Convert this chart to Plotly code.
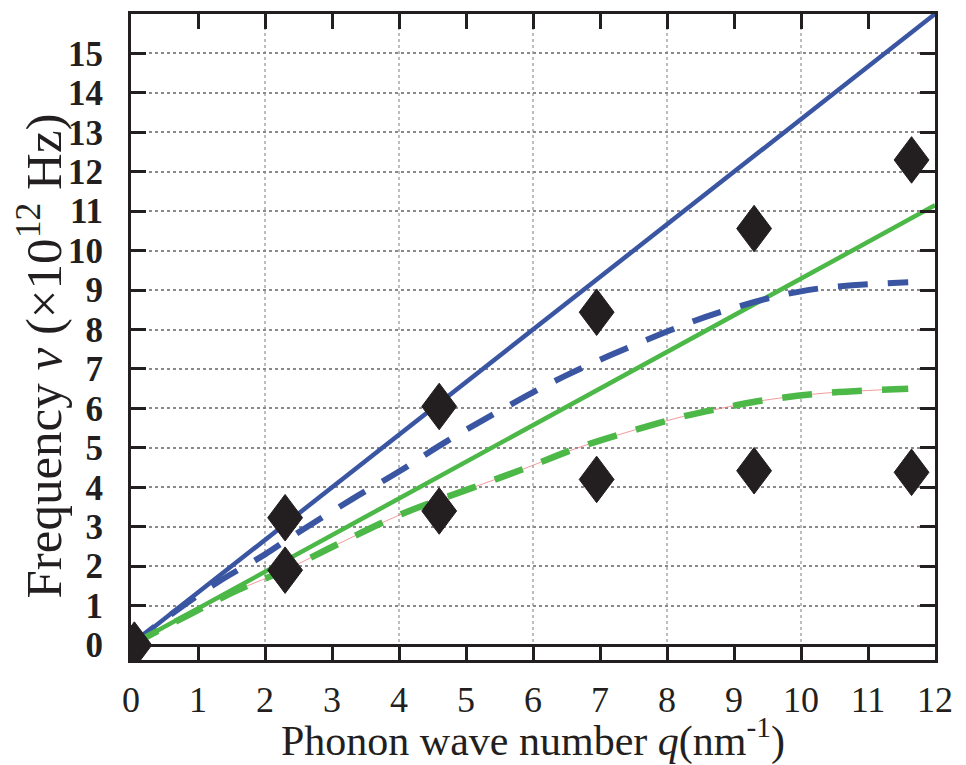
import plotly.graph_objects as go

# measured diamonds (q in nm^-1, frequency in 1e12 Hz)
q_meas = [0.05, 2.3, 2.3, 4.6, 4.6, 6.95, 6.95, 9.3, 9.3, 11.65, 11.65]
v_meas = [0.0, 3.23, 1.9, 6.05, 3.4, 8.44, 4.2, 10.56, 4.42, 12.3, 4.38]

# straight (continuum) lines
q_lin = [0, 12]
v_blue_lin = [0, 16.0]
v_green_lin = [0, 11.15]

# dispersive (dashed) curves
q_blue_dash = [0, 0.6, 1.3, 2.0, 2.4, 3.3, 4.0, 4.6, 5.3, 6.45, 8.0, 8.9, 10.1, 11.6]
v_blue_dash = [0, 0.78, 1.6, 2.3, 2.75, 3.7, 4.4, 5.05, 5.75, 6.8, 7.95, 8.5, 9.0, 9.2]

q_green_dash = [0, 0.9, 1.6, 2.3, 3.1, 4.05, 5.05, 5.85, 6.65, 7.45, 8.25, 8.8, 9.35, 10.3, 11.6]
v_green_dash = [0, 0.8, 1.4, 1.9, 2.57, 3.33, 3.96, 4.46, 4.99, 5.42, 5.8, 6.0, 6.18, 6.38, 6.5]

x_ticks = list(range(0, 13))
x_grid = [2, 4, 6, 8, 10]
y_ticks = list(range(0, 16))

BLUE = "#3a55a2"
GREEN = "#4cb847"
INK = "#231f20"
FONT = "Liberation Serif, Times New Roman, serif"

# diamond half sizes in data units
dq, dv = 0.26, 0.59
dx, dy = [], []
for q, v in zip(q_meas, v_meas):
    dx += [q - dq, q, q + dq, q, q - dq, None]
    dy += [v, v + dv, v, v - dv, v, None]

fig = go.Figure()

fig.add_trace(go.Scatter(x=q_green_dash, y=v_green_dash, mode="lines", line_shape="spline",
                         line=dict(color="#f08080", width=0.8), hoverinfo="skip"))
fig.add_trace(go.Scatter(x=q_lin, y=v_blue_lin, mode="lines", line=dict(color=BLUE, width=4.5)))
fig.add_trace(go.Scatter(x=q_lin, y=v_green_lin, mode="lines", line=dict(color=GREEN, width=4.5)))
fig.add_trace(go.Scatter(x=q_blue_dash, y=v_blue_dash, mode="lines", line_shape="spline",
                         line=dict(color=BLUE, width=6, dash="30px,20px")))
fig.add_trace(go.Scatter(x=q_green_dash, y=v_green_dash, mode="lines", line_shape="spline",
                         line=dict(color=GREEN, width=6.5, dash="30px,20px")))
fig.add_trace(go.Scatter(x=dx, y=dy, mode="lines", fill="toself", fillcolor=INK,
                         line=dict(color=INK, width=1)))

# vertical dotted grid every 2 units (ticks are every unit)
for g in x_grid:
    fig.add_vline(x=g, line=dict(color="#a8a8a8", width=1.5, dash="dot"), layer="below")

# page body has an 8px margin, so the margins below are shifted by it
fig.update_layout(
    width=966, height=765,
    margin=dict(l=123, r=39, t=3, b=113),
    paper_bgcolor="white", plot_bgcolor="white",
    showlegend=False,
    font=dict(family=FONT, color=INK),
    xaxis=dict(
        range=[0, 12], tickvals=x_ticks, ticks="inside", ticklen=15, tickwidth=2.5,
        tickcolor=INK, showline=True, linewidth=3, linecolor=INK, mirror="ticks",
        showgrid=False, zeroline=False,
        tickfont=dict(family=FONT, size=36), ticklabelstandoff=6,
    ),
    yaxis=dict(
        range=[-0.378, 16], tickvals=y_ticks, ticks="inside", ticklen=15, tickwidth=3,
        tickcolor=INK, showline=True, linewidth=3, linecolor=INK, mirror="ticks",
        showgrid=True, gridcolor="#8a8a8a", griddash="dot", gridwidth=1.5,
        zeroline=True, zerolinecolor=INK, zerolinewidth=2.5,
        tickfont=dict(family=FONT, size=35, weight="bold"), ticklabelstandoff=18,
    ),
    annotations=[
        dict(text="Phonon wave number <i>q</i>(nm<sup>-1</sup>)",
             xref="paper", yref="paper", x=0.5, y=-0.12, xanchor="center", yanchor="middle",
             showarrow=False, font=dict(family=FONT, size=42, color=INK)),
        dict(text="Frequency <i>v</i> (×10<sup>12</sup> Hz)", textangle=-90,
             xref="paper", yref="paper", x=-0.113, y=0.47, xanchor="center", yanchor="middle",
             showarrow=False, font=dict(family=FONT, size=51, color=INK)),
    ],
)

fig.write_html("out.html")
